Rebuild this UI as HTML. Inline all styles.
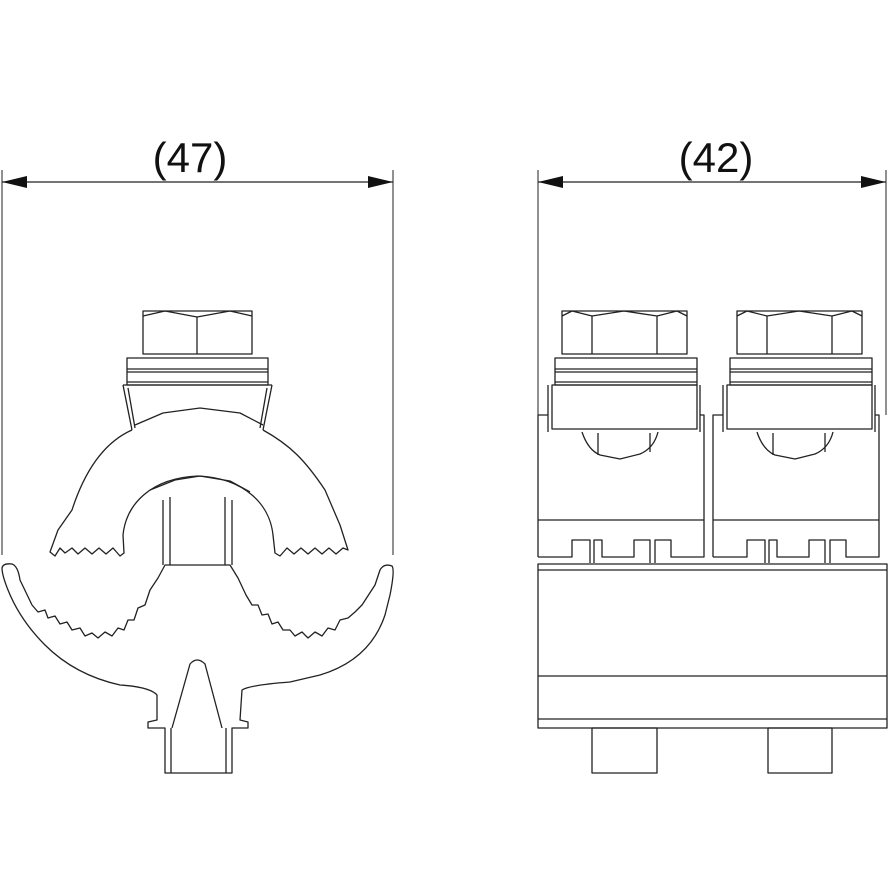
<!DOCTYPE html>
<html><head><meta charset="utf-8"><style>html,body{margin:0;padding:0;background:#fff}svg{display:block}</style></head>
<body>
<svg width="888" height="888" viewBox="0 0 888 888" xmlns="http://www.w3.org/2000/svg">
<g fill="none" stroke="#222" stroke-width="1.3" stroke-linejoin="round">
<!-- dimension left -->
<line x1="2" y1="170" x2="2" y2="555" stroke-width="1"/>
<line x1="393" y1="170" x2="393" y2="555" stroke-width="1"/>
<line x1="2" y1="182" x2="393" y2="182"/>
<!-- dimension right -->
<line x1="538" y1="170" x2="538" y2="415" stroke-width="1"/>
<line x1="886" y1="170" x2="886" y2="415" stroke-width="1"/>
<line x1="538" y1="182" x2="886" y2="182"/>

<!-- LEFT bolt -->
<rect x="143" y="311" width="109" height="43"/>
<polyline points="143,316 165,311 197,317 230,311 252,316"/>
<line x1="197" y1="317" x2="197" y2="354"/>
<rect x="127" y="358" width="141" height="27"/>
<line x1="127" y1="369" x2="268" y2="369"/><line x1="127" y1="372" x2="268" y2="372"/>
<line x1="127" y1="382" x2="268" y2="382"/>
<polyline points="123,385 132,430"/><polyline points="128,388 135,428"/>
<polyline points="272,385 263,430"/><polyline points="267,388 260,428"/>
<line x1="123" y1="385" x2="272" y2="385"/>
<polyline points="135,425 163,413 200,408 240,413 263,425"/>
<!-- arch -->
<path d="M132,430 C105,442 85,470 72,510 L58,530 L50,552 L55,556 L60,548 L65,553 L72,548 L78,554 L85,548 L92,554 L99,548 L106,554 L113,548 L120,556 L124,553 L123,535 C126,505 150,478 198,476 C245,478 270,505 273,535 L275,553 L280,556 L287,548 L294,554 L301,548 L308,554 L315,548 L322,554 L329,548 L336,554 L343,548 L348,550 L340,525 L325,490 C305,460 290,445 263,430"/>
<polyline points="150,490 175,480 200,476 230,481 250,492"/>
<line x1="163" y1="500" x2="163" y2="565"/><line x1="170" y1="497" x2="170" y2="565"/>
<line x1="225" y1="497" x2="225" y2="565"/><line x1="232" y1="500" x2="232" y2="565"/>
<!-- cradle -->
<path d="M2,568 Q3,563 12,564 Q18,566 20,580 L32,605 L38,612 L45,610 L48,618 L55,616 L60,624 L67,622 L72,630 L80,628 L85,636 L92,633 L98,638 L105,632 L112,636 L118,628 L124,630 L128,620 L134,620 L138,608 L145,605 L150,590 L158,578 L165,565 L230,565 L238,578 L246,595 L252,605 L258,605 L262,615 L268,614 L272,624 L278,622 L283,630 L290,630 L295,636 L302,632 L308,638 L315,632 L322,636 L328,628 L335,630 L340,620 L348,618 L355,612 L362,605 L375,585 L380,570 Q384,563 392,566 Q395,570 390,595 L385,615 Q370,660 320,675 L290,682 Q250,685 242,690 L240,720 L248,722 L248,728 L232,728 L232,773 L165,773 L165,728 L148,728 L148,722 L157,720 L157,695 Q150,687 120,685 Q75,675 45,645 Q20,620 8,590 Q2,575 2,568 Z"/>
<line x1="171" y1="728" x2="171" y2="773"/><line x1="226" y1="728" x2="226" y2="773"/>
<path d="M172,728 L190,664 Q197,656 205,664 L222,728"/>

<!-- RIGHT -->
<g id="unit">
<rect x="562" y="311" width="125" height="43"/>
<polyline points="562,316 572,311 592,316 624,311 657,316 677,311 687,316"/>
<line x1="592" y1="316" x2="592" y2="354"/><line x1="657" y1="316" x2="657" y2="354"/>
<rect x="555" y="358" width="142" height="27"/>
<line x1="555" y1="369" x2="697" y2="369"/><line x1="555" y1="372" x2="697" y2="372"/>
<line x1="555" y1="382" x2="697" y2="382"/>
<rect x="552" y="385" width="145" height="44"/>
<line x1="548" y1="385" x2="548" y2="432"/><line x1="700" y1="385" x2="700" y2="432"/>
<path d="M538,557 L538,415 L548,415 M700,415 L704,415 L704,557 L671,557 L671,540 L655,540 L655,563 M650,563 L650,540 L634,540 L634,557 L602,557 L602,540 L594,540 L594,563 M590,563 L590,540 L572,540 L572,557 L538,557"/>
<line x1="538" y1="520" x2="704" y2="520"/>
<path d="M582,432 Q588,450 600,455 L620,459 L640,454 Q654,448 658,432"/>
<line x1="598" y1="433" x2="598" y2="455"/><line x1="650" y1="433" x2="650" y2="452"/>
</g>
<use href="#unit" x="175"/>
<rect x="538" y="564" width="349" height="164"/>
<line x1="538" y1="570" x2="887" y2="570"/>
<line x1="538" y1="676" x2="887" y2="676"/>
<line x1="538" y1="719" x2="887" y2="719"/>
<rect x="592" y="728" width="65" height="45"/>
<rect x="768" y="728" width="64" height="45"/>
</g>
<g fill="#111">
<polygon points="2,182 27,176 27,188"/>
<polygon points="393,182 368,176 368,188"/>
<polygon points="538,182 563,176 563,188"/>
<polygon points="886,182 861,176 861,188"/>
</g>
<g font-family="Liberation Sans, sans-serif" font-size="42" fill="#111" text-anchor="middle">
<text x="190" y="172">(47)</text>
<text x="716" y="172">(42)</text>
</g>
</svg>
</body></html>
